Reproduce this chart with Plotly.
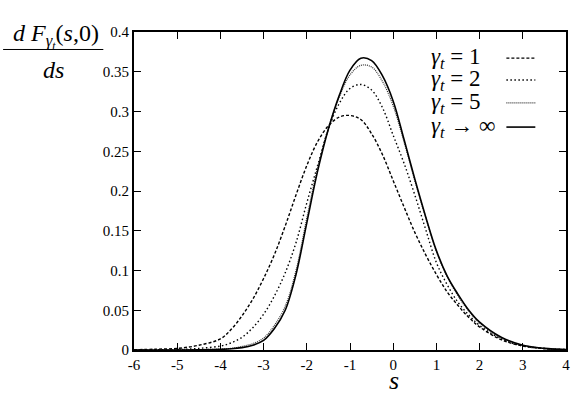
import plotly.graph_objects as go

s = [-6, -5.5, -5, -4.5, -4, -3.75, -3.5, -3.25, -3, -2.75, -2.5, -2.25, -2, -1.75, -1.5, -1.25,
     -1, -0.75, -0.5, -0.25, 0, 0.25, 0.5, 0.75, 1, 1.25, 1.5, 1.75, 2, 2.5, 3, 3.5, 4]

y_g1 = [0.0003, 0.001, 0.002, 0.006, 0.014, 0.026, 0.043, 0.064, 0.09, 0.12, 0.156, 0.195, 0.232,
        0.262, 0.282, 0.293, 0.295, 0.29, 0.272, 0.246, 0.213, 0.18, 0.148, 0.12, 0.095, 0.073,
        0.056, 0.041, 0.029, 0.013, 0.005, 0.0018, 0.0005]
y_g2 = [0.0, 0.0002, 0.0005, 0.002, 0.005, 0.009, 0.016, 0.028, 0.045, 0.068, 0.097, 0.135, 0.185,
        0.232, 0.278, 0.31, 0.329, 0.334, 0.327, 0.305, 0.27, 0.235, 0.195, 0.152, 0.11, 0.082,
        0.06, 0.044, 0.031, 0.014, 0.005, 0.0018, 0.0005]
y_g5 = [0.0, 0.0, 0.0001, 0.0005, 0.0012, 0.002, 0.0045, 0.008, 0.015, 0.031, 0.055, 0.1, 0.166,
        0.229, 0.279, 0.318, 0.346, 0.358, 0.356, 0.338, 0.307, 0.262, 0.213, 0.167, 0.124, 0.092,
        0.068, 0.049, 0.034, 0.015, 0.006, 0.002, 0.0005]
y_inf = [0.0, 0.0, 0.0, 0.0003, 0.0008, 0.0015, 0.003, 0.006, 0.012, 0.027, 0.05, 0.095, 0.16,
         0.225, 0.278, 0.32, 0.352, 0.367, 0.364, 0.345, 0.313, 0.265, 0.215, 0.168, 0.125, 0.093,
         0.07, 0.05, 0.035, 0.016, 0.006, 0.002, 0.0005]

x_ticks = [-6, -5, -4, -3, -2, -1, 0, 1, 2, 3, 4]
x_ticktext = ["-6", "-5", "-4", "-3", "-2", "-1", "0", "1", "2", "3", "4"]
y_ticks = [0, 0.05, 0.1, 0.15, 0.2, 0.25, 0.3, 0.35, 0.4]
y_ticktext = ["0", "0.05", "0.1", "0.15", "0.2", "0.25", "0.3", "0.35", "0.4"]

labels = ["<i>γ<sub>t</sub></i> = 1", "<i>γ<sub>t</sub></i> = 2", "<i>γ<sub>t</sub></i> = 5",
          "<i>γ<sub>t</sub></i> → ∞"]
series = [y_g1, y_g2, y_g5, y_inf]
styles = [dict(color="black", width=1.4, dash="3px,2px"),
          dict(color="black", width=1.4, dash="1.5px,2.5px"),
          dict(color="#333", width=1.2, dash="1px,1px"),
          dict(color="black", width=1.6)]

SERIF = "Times New Roman, Liberation Serif, DejaVu Serif, serif"

fig = go.Figure()
for ys, st in zip(series, styles):
    fig.add_trace(go.Scatter(x=s, y=ys, mode="lines", line=dict(shape="spline", smoothing=1.0, **st),
                             showlegend=False, hoverinfo="skip"))

# legend drawn by hand, gnuplot style: text (left aligned) then sample line
ly = [0.918, 0.849, 0.777, 0.701]
for lab, st, yy in zip(labels, styles, ly):
    fig.add_annotation(xref="paper", yref="paper", x=0.683, y=yy, text=lab, showarrow=False,
                       xanchor="left", yanchor="middle", font=dict(family=SERIF, size=23, color="black"))
    fig.add_shape(type="line", xref="paper", yref="paper", x0=0.862, x1=0.929, y0=yy, y1=yy,
                  line=st)

# y-axis title as a fraction
fig.add_annotation(xref="paper", yref="paper", x=-0.181, y=0.985, xanchor="center", yanchor="middle",
                   text="<i>d F</i><sub><i>γ<sub>t</sub></i></sub>(<i>s</i>,0)", showarrow=False,
                   font=dict(family=SERIF, size=24, color="black"))
fig.add_annotation(xref="paper", yref="paper", x=-0.186, y=0.88, xanchor="center", yanchor="middle",
                   text="<i>ds</i>", showarrow=False, font=dict(family=SERIF, size=24, color="black"))
fig.add_shape(type="line", xref="paper", yref="paper", x0=-0.303, x1=-0.071, y0=0.945, y1=0.945,
              line=dict(color="black", width=1))

fig.add_annotation(xref="paper", yref="paper", x=0.603, y=-0.095, xanchor="center", yanchor="middle",
                   text="<i>s</i>", showarrow=False, font=dict(family=SERIF, size=26, color="black"))

axis_common = dict(showgrid=False, zeroline=False, showline=True, linecolor="black", linewidth=2,
                   mirror="ticks", ticks="inside", ticklen=7, tickwidth=1.2, tickcolor="black",
                   tickfont=dict(family=SERIF, size=15, color="black"))
fig.update_xaxes(range=[-6, 4], tickvals=x_ticks, ticktext=x_ticktext, **axis_common)
fig.update_yaxes(range=[0, 0.4], tickvals=y_ticks, ticktext=y_ticktext, **axis_common)

fig.update_layout(width=575, height=396, margin=dict(l=134, r=5, t=32, b=46),
                  plot_bgcolor="white", paper_bgcolor="white")
fig.write_html("out.html", config={"displayModeBar": False},
               post_script="document.body.style.margin='0';")
